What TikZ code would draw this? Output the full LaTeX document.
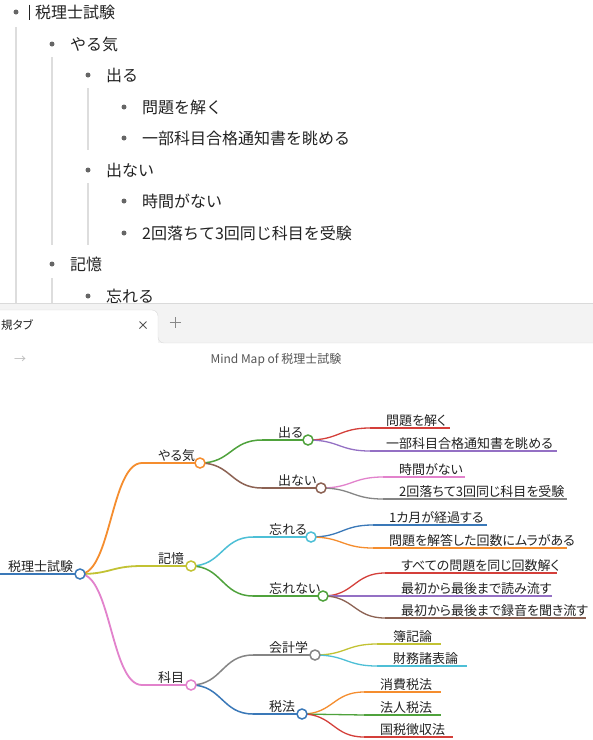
\documentclass[tikz,border=0pt]{standalone}
\usepackage{fontspec}
\setmainfont{Noto Sans CJK JP}
\newfontfamily\mmfont{Noto Sans CJK JP}[RawFeature=+palt]
\usepackage{tikz}
\usetikzlibrary{calc}

\definecolor{itemtext}{HTML}{222222}
\definecolor{bulletgray}{HTML}{666666}
\definecolor{guidegray}{HTML}{DDDDDD}
\definecolor{tabbg}{HTML}{F3F3F3}
\definecolor{tabline}{HTML}{DADADA}
\definecolor{icongray}{HTML}{555555}
\definecolor{plusgray}{HTML}{888888}
\definecolor{arrowgray}{HTML}{BBBBBB}
% markmap palette
\definecolor{mmblue}{HTML}{3A78B8}
\definecolor{mmorange}{HTML}{F58D2E}
\definecolor{mmgreen}{HTML}{4FA23C}
\definecolor{mmred}{HTML}{D43F3A}
\definecolor{mmpurple}{HTML}{9470C4}
\definecolor{mmbrown}{HTML}{8C6253}
\definecolor{mmpink}{HTML}{E282CC}
\definecolor{mmgray}{HTML}{858585}
\definecolor{mmolive}{HTML}{C2C233}
\definecolor{mmcyan}{HTML}{4DBFD6}

\begin{document}
\begin{tikzpicture}[x=1pt, y=-1pt,
    bullet/.style={circle, fill=bulletgray, inner sep=0pt, minimum size=5pt},
    item/.style={anchor=base west, inner sep=0pt, text=itemtext, font=\fontsize{16}{16}\selectfont},
    guide/.style={draw=guidegray, line width=1.5pt},
    mmtext/.style={anchor=base west, inner sep=0pt, text=itemtext, font=\mmfont\fontsize{13}{13}\selectfont},
    knob/.style={circle, fill=white, line width=1.5pt, minimum size=10pt, inner sep=0pt}
]
\useasboundingbox (0,0) rectangle (593,740);
\clip (0,0) rectangle (593,740);

% Outline
\draw[guide] (16,27) -- (16,303);
\draw[guide] (52,57) -- (52,245);
\draw[guide] (88,88) -- (88,150);
\draw[guide] (88,183) -- (88,245);
\draw[guide] (52,278) -- (52,303);

\node[bullet] (b-root) at (16,12) {};
\draw[itemtext, line width=0.8pt] (29.5,4.5) -- (29.5,20);
\node[item] (i-root) at (35,18) {税理士試験};
\foreach \n/\lv/\y/\txt in {yaruki/1/44/やる気, deru/2/75/出る, toku/3/107/問題を解く,
    nagame/3/138/一部科目合格通知書を眺める, denai/2/170/出ない, jikan/3/201/時間がない,
    juken/3/233/2回落ちて3回同じ科目を受験, kioku/1/264/記憶, wasure/2/296/忘れる}
{
  \node[bullet] (b-\n) at ({16+36*\lv},\y) {};
  \node[item] (i-\n) at ({34+36*\lv},{\y+6}) {\txt};
}

% Tab bar
\fill[tabbg] (0,303) rectangle (593,343);
\draw[tabline] (0,303) -- (593,303);
\fill[white, rounded corners=6pt] (-5,310) -- (158,310) -- (158,350) -- (-5,350) -- cycle;
\fill[white] (0,343) rectangle (593,740);
\draw[tabline, rounded corners=6pt] (-5,310) -- (158,310) -- (158,343) -- (593,343);
\node[mmtext, font=\mmfont\fontsize{11.5}{11.5}\selectfont] (tabname) at (1,329) {規タブ};
\draw[icongray, line width=1pt] (139.5,321.5) -- (146.5,328.5) (139.5,328.5) -- (146.5,321.5);
\draw[plusgray, line width=1pt] (169.5,322.5) -- (180.5,322.5) (175,317) -- (175,328);
\node[text=arrowgray, font=\fontsize{12}{12}\selectfont] (fwd) at (20,360) {→};
\node[text=icongray, font=\fontsize{12}{12}\selectfont] (title) at (276,360) {Mind Map of 税理士試験};

% Mind map: nodes
\foreach \n/\sx/\ex/\y/\col/\w/\txt in {
    root/-8/80/574/mmblue/2.2/税理士試験,
    yaruki/142/200/463/mmorange/1.8/やる気,
    kioku/142/191/566/mmolive/1.8/記憶,
    kamoku/142/191/685/mmpink/1.8/科目,
    deru/262/308/440/mmgreen/1.5/出る,
    denai/262/321/488/mmbrown/1.5/出ない,
    wasureru/253/311/537/mmcyan/1.5/忘れる,
    wasurenai/253/323/596/mmgreen/1.5/忘れない,
    kaikei/253/315/655/mmgray/1.5/会計学,
    zeihou/253/302/714/mmblue/1.5/税法,
    toku/370/450/428/mmred/1.3/問題を解く,
    nagameru/370/557/451/mmpurple/1.3/一部科目合格通知書を眺める,
    jikan/383/465/477/mmpink/1.3/時間がない,
    juken/383/567/499/mmgray/1.3/2回落ちて3回同じ科目を受験,
    keika/373/487/525/mmblue/1.3/1カ月が経過する,
    mura/373/567/548/mmorange/1.3/問題を解答した回数にムラがある,
    onaji/385/557/573/mmred/1.3/すべての問題を同じ回数解く,
    yomi/385/552/596/mmpurple/1.3/最初から最後まで読み流す,
    rokuon/385/586/618/mmbrown/1.3/最初から最後まで録音を聞き流す,
    boki/377/441/644/mmolive/1.3/簿記論,
    zaimu/377/467/666/mmcyan/1.3/財務諸表論,
    shouhi/364/441/692/mmorange/1.3/消費税法,
    houjin/364/441/715/mmgreen/1.3/法人税法,
    choushu/364/453/737/mmred/1.3/国税徴収法}
{
  \coordinate (\n-s) at (\sx,\y);
  \coordinate (\n) at (\ex,\y);
  \draw[\col, line width=\w pt] (\n-s) -- (\n);
  \node[mmtext] (\n-t) at ({\sx+16},{\y-3}) {\txt};
}

% Mind map: links
\foreach \a/\b/\col/\w in {root/yaruki/mmorange/1.8, root/kioku/mmolive/1.8, root/kamoku/mmpink/1.8,
    yaruki/deru/mmgreen/1.5, yaruki/denai/mmbrown/1.5,
    kioku/wasureru/mmcyan/1.5, kioku/wasurenai/mmgreen/1.5,
    kamoku/kaikei/mmgray/1.5, kamoku/zeihou/mmblue/1.5,
    deru/toku/mmred/1.3, deru/nagameru/mmpurple/1.3,
    denai/jikan/mmpink/1.3, denai/juken/mmgray/1.3,
    wasureru/keika/mmblue/1.3, wasureru/mura/mmorange/1.3,
    wasurenai/onaji/mmred/1.3, wasurenai/yomi/mmpurple/1.3, wasurenai/rokuon/mmbrown/1.3,
    kaikei/boki/mmolive/1.3, kaikei/zaimu/mmcyan/1.3,
    zeihou/shouhi/mmorange/1.3, zeihou/houjin/mmgreen/1.3, zeihou/choushu/mmred/1.3}
  \draw[\col, line width=\w pt] (\a) .. controls +(31,0) and +(-31,0) .. (\b-s);

% Mind map: knobs
\foreach \n/\col in {root/mmblue, yaruki/mmorange, kioku/mmolive, kamoku/mmpink,
    deru/mmgreen, denai/mmbrown, wasureru/mmcyan, wasurenai/mmgreen, kaikei/mmgray, zeihou/mmblue}
  \node[knob, draw=\col] (\n-k) at (\n) {};
\end{tikzpicture}
\end{document}
